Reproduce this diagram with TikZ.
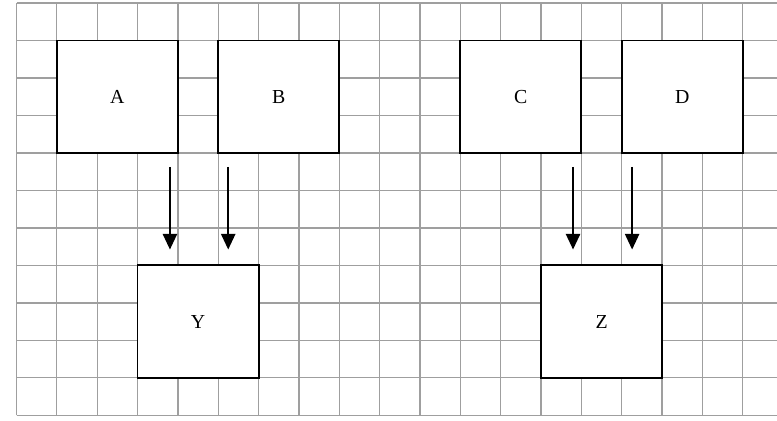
\documentclass[tikz,border=0pt]{standalone}
\usepackage{fontspec}
\setmainfont{Liberation Serif}
\usetikzlibrary{arrows.meta}
\begin{document}
\begin{tikzpicture}[x=1cm,y=0.929cm,
		gridline/.style={line width=0.9pt,draw=gray!75},
		box/.style={draw,line width=1.3pt,fill=white,minimum width=3cm,minimum height=2.787cm,inner sep=0pt,font=\fontsize{14}{16}\selectfont},
		arr/.style={line width=1.3pt,-{Triangle[width=10pt,length=11pt]},shorten <=0.32cm,shorten >=0.37cm}]
				\useasboundingbox (-0.409,-0.147) rectangle (18.848,11.08);
				\draw [gridline,xstep=1cm,ystep=0.929cm] (0,0) grid (18,11);
				\foreach \y in {0,...,11}
					\draw [gridline] (18,\y) -- (18.848,\y);

				\node [box] (A) at (2.5,8.5) {A};
				\node [box] (B) at (6.5,8.5) {B};
				\node [box] (C) at (12.5,8.5) {C};
				\node [box] (D) at (16.5,8.5) {D};
				\node [box] (Y) at (4.5,2.5) {Y};
				\node [box] (Z) at (14.5,2.5) {Z};

				\coordinate (a1) at ([xshift=-0.22cm]A.south east);
				\coordinate (b1) at ([xshift=0.27cm]B.south west);
				\coordinate (c1) at ([xshift=-0.23cm]C.south east);
				\coordinate (d1) at ([xshift=0.28cm]D.south west);
				\draw [arr] (a1) -- (a1 |- Y.north);
				\draw [arr] (b1) -- (b1 |- Y.north);
				\draw [arr] (c1) -- (c1 |- Z.north);
				\draw [arr] (d1) -- (d1 |- Z.north);
			\end{tikzpicture}
\end{document}
